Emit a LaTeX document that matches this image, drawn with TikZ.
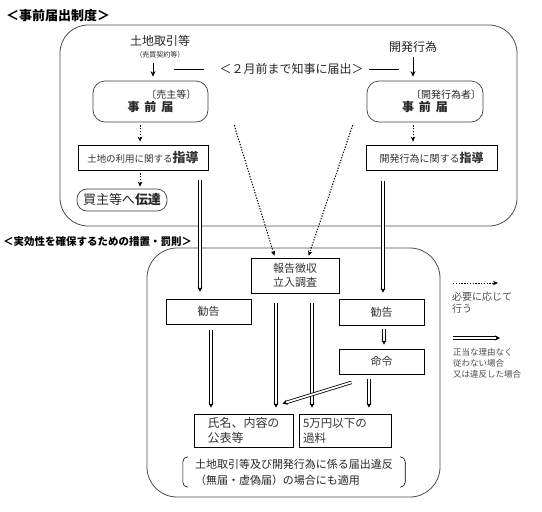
\documentclass[tikz,border=0pt]{standalone}
\usepackage{fontspec}
\setmainfont{Noto Sans CJK JP}
\usetikzlibrary{arrows.meta}
\newcommand\fsz[2]{\fontsize{#1}{#2}\selectfont}
\tikzset{
  frame/.style={draw=black!70,line width=.8pt,rounded corners=28pt},
  todoke/.style={draw=black!75,line width=.7pt,rounded corners=12pt,inner sep=1pt,align=center,text=black!85},
  box/.style={draw,line width=.7pt,inner sep=1pt,text=black!80},
  ttl/.style={anchor=west,inner sep=0pt},
  lab/.style={inner sep=0pt,text=black!85},
  arr/.style={line width=.9pt,-{Stealth[length=5.5pt,width=5pt]}},
  dots/.style={line width=1pt,dash pattern=on 1.3pt off 1.5pt,-{Stealth[length=5pt,width=4.5pt]}},
  dbl/.style={double,double distance=1.8pt,line width=.8pt,-{Stealth[length=5pt,width=5pt]}},
  brk/.style={line width=.6pt,rounded corners=5pt},
  legend/.style={anchor=north west,inner sep=0pt,align=left,text=black!70}
}
\begin{document}
\begin{tikzpicture}[x=1pt,y=-1pt]
  \useasboundingbox (0,0) rectangle (542,512);
  % prior notification
  \node[ttl,font=\fsz{13}{15}\bfseries] (ttlA) at (6,16) {＜事前届出制度＞};
  \draw[frame] (60,25) rectangle (517,226);
  \node[lab,align=center] (land) at (160,47) {{\fsz{12}{13}土地取引等}\\{\fsz{7}{8}（売買契約等）}};
  \node[lab,font=\fsz{12}{14}] (dev) at (413,47) {開発行為};
  \node[lab,font=\fsz{12}{14}] (timing) at (291.5,69) {＜２月前まで知事に届出＞};
  \draw[line width=.6pt] ([xshift=-15pt]timing.west) -- ++(-30,0);
  \draw[line width=.6pt] ([xshift=5pt]timing.east) -- ++(30,0);
  \node[todoke,minimum width=115pt,minimum height=41pt] (notL) at (150.5,101.5)
    {\makebox[92pt][r]{\fsz{10}{12}〔売主等〕}\\[1pt]\fsz{12}{14}\bfseries 事\hspace{.4em}前\hspace{.4em}届};
  \node[todoke,minimum width=116pt,minimum height=41pt] (notR) at (425,101.5)
    {\makebox[112pt][r]{\fsz{10}{12}〔開発行為者〕}\\[1pt]\fsz{12}{14}\bfseries 事\hspace{.4em}前\hspace{.4em}届};
  \node[box,minimum width=130pt,minimum height=25pt] (guideL) at (143,157.5)
    {\fsz{9.5}{11}土地の利用に関する{\fsz{13}{14}\bfseries 指導}};
  \node[box,minimum width=131pt,minimum height=25pt] (guideR) at (431.5,157.5)
    {\fsz{10}{12}開発行為に関する{\fsz{12}{14}\bfseries 指導}};
  \node[todoke,rounded corners=10pt,minimum width=90pt,minimum height=22pt] (tellB) at (122,200)
    {\fsz{13}{14}買主等へ\textbf{伝達}};
  \draw[arr,shorten <=4pt,shorten >=4pt] ([xshift=-7pt]land.south) -- ([xshift=2.5pt]notL.north);
  \draw[arr,shorten <=4pt,shorten >=4pt] (dev.south) -- ([xshift=-12pt]notR.north);
  \draw[dots,shorten <=3pt,shorten >=3pt] ([xshift=-10.5pt]notL.south) -- ([xshift=-3pt]guideL.north);
  \draw[dots,shorten <=3pt,shorten >=2pt] ([xshift=-3pt]guideL.south) -- ([xshift=18pt]tellB.north);
  \draw[dots,shorten <=3pt,shorten >=3pt] ([xshift=-12pt]notR.south) -- ([xshift=-18.5pt]guideR.north);
  % measures and penalties
  \node[ttl,font=\fsz{10.5}{12}\bfseries] (ttlB) at (3,242) {＜実効性を確保するための措置・罰則＞};
  \draw[frame,rounded corners=30pt] (147,248) rectangle (440,497);
  \node[box,minimum width=88pt,minimum height=35pt,align=center,font=\fsz{11}{14}] (report) at (295,275.5)
    {報告徴収\\立入調査};
  \node[box,minimum width=85pt,minimum height=25pt,font=\fsz{11}{13}] (kanL) at (208.5,311.5) {勧告};
  \node[box,minimum width=85pt,minimum height=26pt,font=\fsz{11}{13}] (kanR) at (381.5,312) {勧告};
  \node[box,minimum width=85pt,minimum height=25pt,font=\fsz{11}{13}] (order) at (381.5,361.5) {命令};
  \node[box,minimum width=99pt,minimum height=33pt,align=left,font=\fsz{12}{15}] (pub) at (243.5,430.5)
    {氏名、内容の\\公表等};
  \node[box,text width=84pt,inner sep=4pt,minimum height=33pt,align=left,font=\fsz{11.5}{15}] (fine) at (345,430.5)
    {5万円以下の\\過料};
  \node[lab,minimum width=222pt,minimum height=30pt,align=left,font=\fsz{11}{16}] (note) at (294,472)
    {土地取引等及び開発行為に係る届出違反\\（無届・虚偽届）の場合にも適用};
  \draw[brk] ([xshift=5pt]note.north west) -- (note.north west) -- (note.south west) -- ([xshift=5pt]note.south west);
  \draw[brk] ([xshift=-5pt]note.north east) -- (note.north east) -- (note.south east) -- ([xshift=-5pt]note.south east);
  \draw[dots,shorten <=3pt,shorten >=2pt] ([xshift=25pt]notL.south east) -- ([xshift=-20pt]report.north);
  \draw[dots,shorten <=3pt,shorten >=2pt] ([xshift=-13pt]notR.south west) -- ([xshift=13pt]report.north);
  \draw[dbl,shorten <=10pt,shorten >=7pt] ([xshift=57pt]guideL.south) -- ([xshift=-8.5pt]kanL.north);
  \draw[dbl,shorten <=11pt,shorten >=6pt] ([xshift=-48.5pt]guideR.south) -- ([xshift=1.5pt]kanR.north);
  \draw[dbl,shorten <=4pt,shorten >=4pt] ([xshift=2.5pt]kanR.south) -- ([xshift=2.5pt]order.north);
  \draw[dbl,shorten <=6pt,shorten >=6pt] ([xshift=2.5pt]kanL.south) -- ([xshift=-32.5pt]pub.north);
  \draw[dbl,shorten <=10pt,shorten >=6pt] ([xshift=-19pt]report.south) -- ([xshift=32.5pt]pub.north);
  \draw[dbl,shorten <=10pt,shorten >=6pt] ([xshift=17pt]report.south) -- ([xshift=-33pt]fine.north);
  \draw[dbl,shorten <=5pt,shorten >=6pt] ([xshift=-12.5pt]order.south) -- ([xshift=24pt]fine.north);
  \draw[dbl] ([xshift=13pt,yshift=-8pt]order.south west) -- ([xshift=-11pt,yshift=10pt]pub.north east);
  % legend
  \coordinate (dotA) at (453,283);
  \coordinate (dotB) at (498,283);
  \draw[dots] (dotA) -- (dotB);
  \node[legend,font=\fsz{10}{12}] (dotT) at (452,292) {必要に応じて\\行う};
  \coordinate (dblA) at (453,338);
  \coordinate (dblB) at (500,338);
  \draw[dbl] (dblA) -- (dblB);
  \node[legend,font=\fsz{8.5}{11}] (dblT) at (453,348) {正当な理由なく\\従わない場合\\又は違反した場合};
\end{tikzpicture}
\end{document}
